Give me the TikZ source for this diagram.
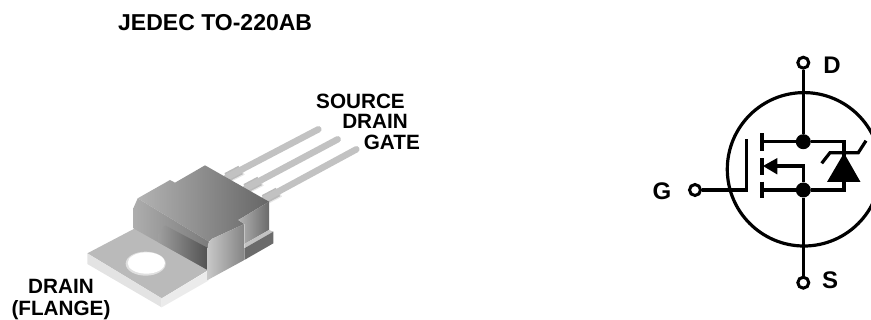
\documentclass[tikz,border=0pt]{standalone}
\usepackage{fontspec}
\setmainfont{Liberation Sans}
\usetikzlibrary{arrows.meta}
\tikzset{
  lbl/.style={font=\bfseries\fontsize{20.7}{22}\selectfont,inner sep=0pt,text=black},
  ttl/.style={font=\bfseries\fontsize{23}{23}\selectfont,inner sep=0pt,text=black},
  pin/.style={font=\bfseries\fontsize{24}{24}\selectfont,inner sep=0pt,text=black},
  term/.style={circle,draw=black,line width=3pt,fill=white,minimum size=11pt,inner sep=0pt},
  dot/.style={circle,fill=black,minimum size=15pt,inner sep=0pt},
  wire/.style={line width=3.2pt,draw=black,line cap=butt,line join=miter},
  bar/.style={line width=4pt,draw=black},
  lead/.style={line width=6.5pt,draw=black!24,line cap=round},
  leadlow/.style={line width=6pt,draw=black!9},
  stub/.style={line width=9.5pt,draw=black!27},
}
\begin{document}
\begin{tikzpicture}[x=1pt,y=-1pt]
\useasboundingbox (0,0) rectangle (871,320);
\begin{scope}
\clip (0,0) rectangle (871,320);
\node[ttl,anchor=west] (title) at (118,23) {JEDEC TO-220AB};
% leads and tab, coordinates of the 3x view
\begin{scope}[shift={(60,80)},scale=1/3]
\foreach \a/\b/\c/\d in {500/292/775/148,557/325/833/178,612/358/889/208}{
  \draw[leadlow] (\a,\b+10) -- ++(50,-26);
  \draw[stub] (\a,\b) -- ++(42,-22);
  \draw[lead] (\a,\b) -- (\c,\d);
}
\fill[black!27] (82,520) -- (225,445) -- (445,570) -- (305,655) -- cycle;
\fill[black!11] (82,520) -- (305,655) -- (305,682) -- (82,552) -- cycle;
\fill[black!8] (305,655) -- (445,572) -- (445,602) -- (305,682) -- cycle;
\fill[black!12] (257,551) ellipse (60 and 36);
\fill[white] (259,549) ellipse (56 and 32);
\end{scope}
% body
\begin{scope}[shift={(125,160)},scale=1/3]
\shade[left color=black!30,right color=black!60]
  (38,115) -- (135,60) -- (150,68) -- (240,16) -- (432,125) -- (340,180) -- (358,192) -- (262,236) -- (252,245) -- cycle;
\shade[left color=black!32,right color=black!52]
  (38,115) -- (25,145) -- (25,205) -- (248,330) -- (248,265) -- (252,245) -- cycle;
\shade[left color=black!38,right color=black!68]
  (100,222) -- (100,247) -- (248,330) -- (248,262) -- (245,262) -- (120,196) -- cycle;
\shade[left color=black!30,right color=black!58]
  (340,180) -- (432,125) -- (432,210) -- (358,252) -- (358,192) -- cycle;
\fill[black!24] (358,252) -- (432,210) -- (445,215) -- (358,265) -- cycle;
\fill[black!58] (358,265) -- (445,215) -- (445,250) -- (358,300) -- cycle;
\shade[left color=black!22,right color=black!48]
  (248,360) -- (248,265) .. controls (248,250) and (252,243) .. (262,236) -- (358,192) -- (358,300) -- cycle;
\end{scope}
\node[lbl,anchor=east] (src) at (405,101) {SOURCE};
\node[lbl,anchor=east] (drn) at (408,121) {DRAIN};
\node[lbl,anchor=east] (gat) at (420,142) {GATE};
\node[lbl,align=center,anchor=center] (flange) at (61,299.5) {DRAIN\\(FLANGE)};
% schematic
\draw[wire] (804,169.3) circle (76.7);
\node[term] (D) at (803.3,62.7) {};
\node[term] (S) at (803.3,282.7) {};
\node[term] (G) at (695,190) {};
\node[dot] (dd) at (803.3,141.7) {};
\node[dot] (ds) at (803.3,190) {};
\coordinate (gb) at (746.7,190);
\coordinate (gt) at (746.7,139);
\coordinate (ct) at (761.7,141.7);
\coordinate (cb) at (761.7,190);
\coordinate (kt) at (844,141.7);
\coordinate (kb) at (844,190);
\coordinate (bm) at (803.3,166);
\draw[wire] (D) -- (dd);
\draw[wire] (ds) -- (S);
\draw[wire] (G) -- (gb) -- (gt);
\draw[wire] (dd) -- (ct);
\draw[wire] (ds) -- (cb);
\draw[wire] (dd) -- (kt) -- (kb) -- (ds);
\draw[bar] (761.7,133.3) -- (761.7,150.7);
\draw[bar] (761.7,158.3) -- (761.7,175);
\draw[bar] (761.7,181.7) -- (761.7,198.3);
\draw[wire] (772,166) -| (ds);
\fill[black] (763,166) -- (777.3,158) -- (777.3,174.5) -- cycle;
\fill[black] (844,153) -- (860.5,182) -- (827,182) -- cycle;
\draw[wire] (821.7,163.3) -- (830,152.7) -- (858.3,152.7) -- (866,140.7);
\node[pin,anchor=center] (lD) at (832,65) {D};
\node[pin,anchor=center] (lS) at (830,280) {S};
\node[pin,anchor=center] (lG) at (662,191) {G};
\end{scope}
\end{tikzpicture}
\end{document}
